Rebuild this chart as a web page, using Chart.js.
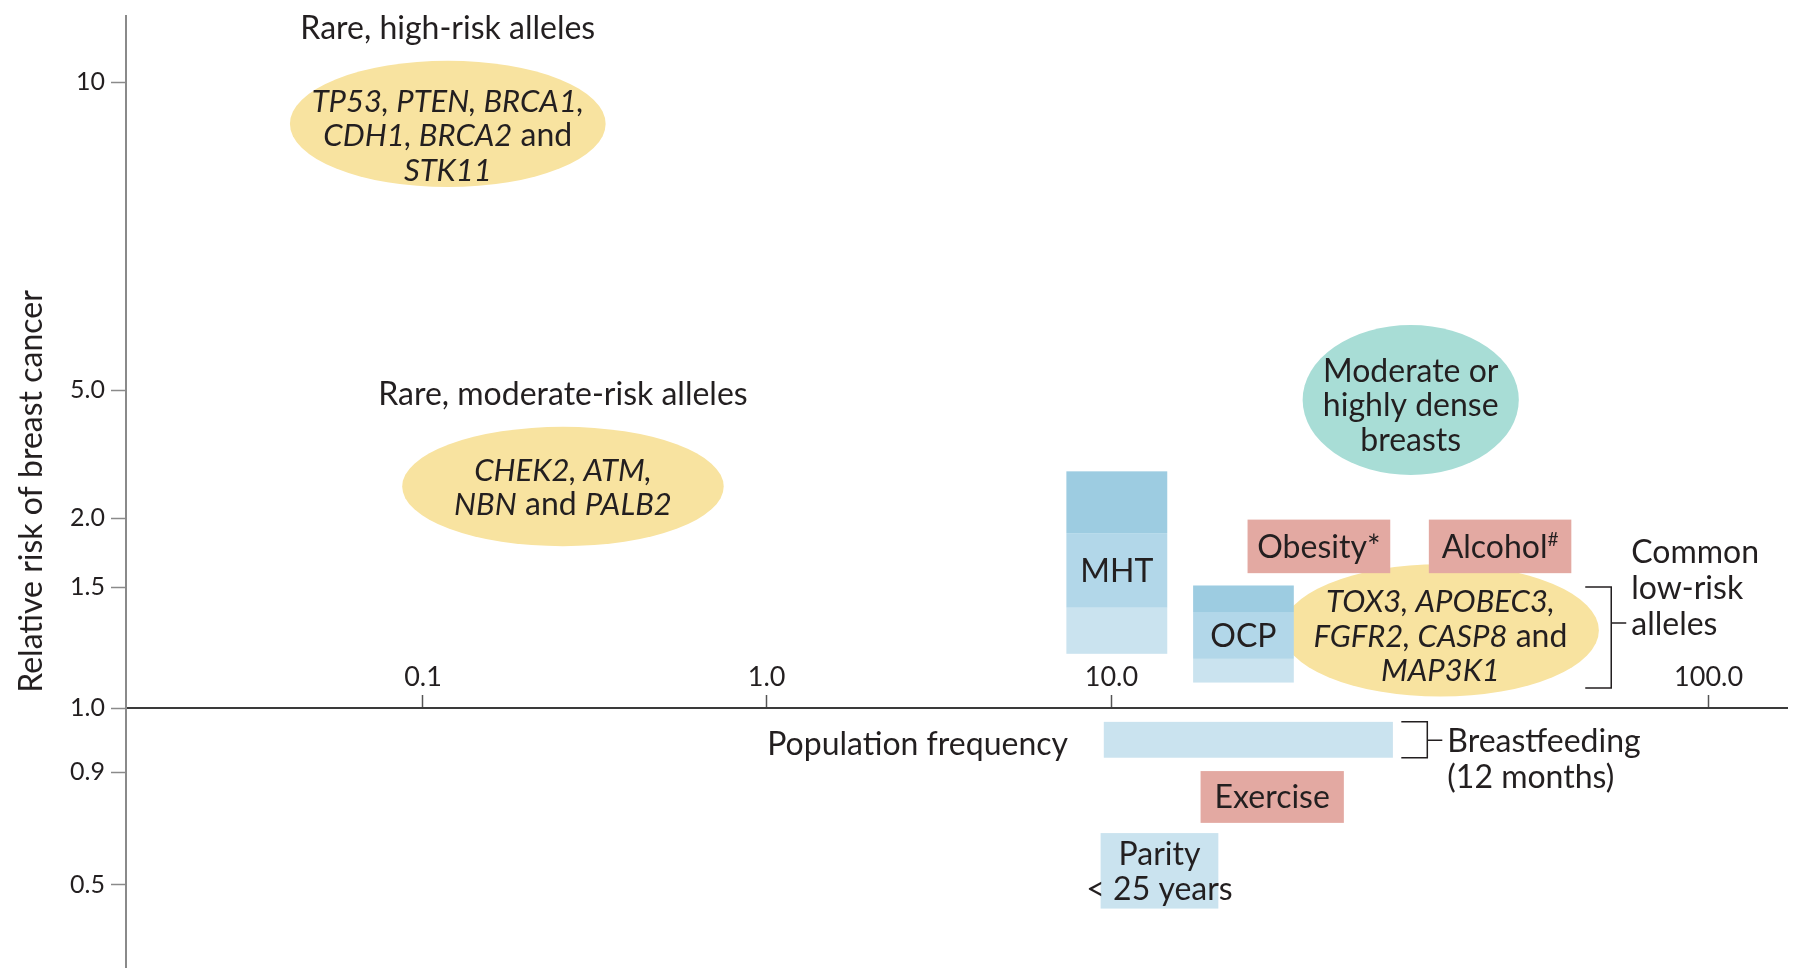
<!DOCTYPE html>
<html>
<head>
<meta charset="utf-8">
<script src="https://cdn.jsdelivr.net/npm/chart.js@4.4.1/dist/chart.umd.min.js"></script>
<style>
  html, body { margin: 0; background: #fff; }
  canvas { display: block; }
</style>
</head>
<body>
<canvas id="riskChart" width="1794" height="973" style="width:1794px;height:973px"></canvas>
<script>
// axis ticks
const xTicks = [0.1, 1, 10, 100];
const xTickLabels = ['0.1', '1.0', '10.0', '100.0'];
const yTicks = [0.5, 0.9, 1, 1.5, 2, 5, 10];
const yTickLabels = ['0.5', '0.9', '1.0', '1.5', '2.0', '5.0', '10'];

// genetic variants and breast density (ellipses): [min, max] population frequency and relative risk
const blobTitles = ['Rare, high-risk alleles', 'Rare, moderate-risk alleles', '', ''];
const blobText = [
  ['_TP53, PTEN, BRCA1,_', '_CDH1, BRCA2_ and', '_STK11_'],
  ['_CHEK2, ATM,_', '_NBN_ and _PALB2_'],
  ['_TOX3, APOBEC3,_', '_FGFR2, CASP8_ and', '_MAP3K1_'],
  ['Moderate or', 'highly dense', 'breasts']
];
const blobFreq = [[0.041, 0.34], [0.087, 0.75], [19.3, 65.5], [20.9, 48.1]];
const blobRisk = [[7.9, 10.5], [1.78, 3.85], [1.04, 1.65], [2.73, 5.79]];

// exposures (boxes); MHT and OCP are split in three risk bands
const boxText = [['MHT'], ['OCP'], ['Obesity*'], ['Alcohol^#^'], [], ['Exercise'], ['Parity', '< 25 years']];
const boxFreq = [[7.4, 12.4], [13.7, 20.2], [16.9, 29.3], [34, 58.9], [9.5, 29.6], [14.1, 24.5], [9.3, 15.1]];
const boxRisk = [
  [1.2, 1.4, 1.88, 2.8],
  [1.09, 1.18, 1.38, 1.51],
  [1.59, 1.99],
  [1.59, 1.99],
  [0.922, 0.978],
  [0.691, 0.902],
  [0.441, 0.655]
];

// bracket labels: spine frequency, [bottom, top, pointer] risk
const calloutText = [['Common', 'low-risk', 'alleles'], ['Breastfeeding', '(12 months)']];
const calloutFreq = [68.7, 33.8];
const calloutRisk = [[1.07, 1.5, 1.33], [0.922, 0.978, 0.949]];
const calloutLine = [2, 0];

const xTitle = 'Population frequency';
const yTitle = 'Relative risk of breast cancer';

// styles
const INK = '#231f20';
const FONT = 'Lato, "Noto Sans", sans-serif';
const TEXT_SIZE = 32;
const YELLOW = '#f8e3a0', TEAL = '#a8ddd6', PINK = '#e3a9a2';
const BLUE_DARK = '#9dcce1', BLUE_MID = '#b2d7e9', BLUE_LIGHT = '#cae3ef';
const blobColors = [YELLOW, YELLOW, YELLOW, TEAL];
const blobTextShift = [11, 0, 5, 5];
const boxColors = [
  [BLUE_LIGHT, BLUE_MID, BLUE_DARK],
  [BLUE_LIGHT, BLUE_MID, BLUE_DARK],
  [PINK], [PINK], [BLUE_LIGHT], [PINK], [BLUE_LIGHT]
];

// log-like axis where each decade (or step) between stops gets its own length
class PiecewiseLogScale extends Chart.LinearScale {
  static id = 'piecewiseLog';
  static defaults = {};

  getPixelForValue(value) {
    const stops = this.options.stops;
    let i = 1;
    while (i < stops.length - 1 && value > stops[i][0]) i++;
    const a = stops[i - 1], b = stops[i];
    const t = (Math.log10(value) - Math.log10(a[0])) / (Math.log10(b[0]) - Math.log10(a[0]));
    return this.getPixelForDecimal(a[1] + t * (b[1] - a[1]));
  }

  getValueForPixel(pixel) {
    const stops = this.options.stops;
    const d = this.getDecimalForPixel(pixel);
    let i = 1;
    while (i < stops.length - 1 && d > stops[i][1]) i++;
    const a = stops[i - 1], b = stops[i];
    const t = (d - a[1]) / (b[1] - a[1]);
    return Math.pow(10, Math.log10(a[0]) + t * (Math.log10(b[0]) - Math.log10(a[0])));
  }
}
Chart.register(PiecewiseLogScale);

// '_' toggles italic, '^' toggles superscript
function drawRichLine(ctx, str, x, cy, size, align) {
  const parts = [];
  let italic = false, sup = false, buf = '';
  for (const ch of str) {
    if (ch === '_' || ch === '^') {
      if (buf) parts.push({ t: buf, italic, sup });
      buf = '';
      if (ch === '_') italic = !italic; else sup = !sup;
    } else {
      buf += ch;
    }
  }
  if (buf) parts.push({ t: buf, italic, sup });

  const sizeOf = p => p.sup ? Math.round(size * 0.6) : (p.italic ? size - 1 : size);
  const fontOf = p => (p.italic ? 'italic ' : '') + sizeOf(p) + 'px ' + FONT;
  let width = 0;
  parts.forEach(p => { ctx.font = fontOf(p); p.w = ctx.measureText(p.t).width; width += p.w; });

  let cx = align === 'left' ? x : x - width / 2;
  const base = cy + size * 0.36;
  ctx.textAlign = 'left';
  ctx.textBaseline = 'alphabetic';
  ctx.fillStyle = INK;
  parts.forEach(p => {
    ctx.font = fontOf(p);
    ctx.fillText(p.t, cx, p.sup ? base - size * 0.36 : base);
    cx += p.w;
  });
}

const shapesPlugin = {
  id: 'shapes',
  afterDatasetsDraw(chart) {
    const { ctx } = chart;
    const px = v => chart.scales.x.getPixelForValue(v);
    const py = v => chart.scales.y.getPixelForValue(v);
    const lineGap = 34.5;
    ctx.save();

    // ellipses
    blobFreq.forEach((f, i) => {
      const x0 = px(f[0]), x1 = px(f[1]);
      const yTop = py(blobRisk[i][1]), yBot = py(blobRisk[i][0]);
      ctx.fillStyle = blobColors[i];
      ctx.beginPath();
      ctx.ellipse((x0 + x1) / 2, (yTop + yBot) / 2, (x1 - x0) / 2, (yBot - yTop) / 2, 0, 0, Math.PI * 2);
      ctx.fill();
    });

    // boxes
    boxFreq.forEach((f, i) => {
      const r = boxRisk[i];
      const x0 = px(f[0]), x1 = px(f[1]);
      for (let b = 0; b < r.length - 1; b++) {
        const yTop = py(r[b + 1]), yBot = py(r[b]);
        ctx.fillStyle = boxColors[i][b];
        ctx.fillRect(x0, yTop, x1 - x0, yBot - yTop);
      }
    });

    // ellipse text and titles
    blobFreq.forEach((f, i) => {
      const cx = (px(f[0]) + px(f[1])) / 2;
      const yTop = py(blobRisk[i][1]), yBot = py(blobRisk[i][0]);
      const lines = blobText[i];
      const cy = (yTop + yBot) / 2 + blobTextShift[i];
      lines.forEach((l, k) => drawRichLine(ctx, l, cx, cy + (k - (lines.length - 1) / 2) * lineGap, TEXT_SIZE, 'center'));
      if (blobTitles[i]) drawRichLine(ctx, blobTitles[i], cx, yTop - 33, TEXT_SIZE, 'center');
    });

    // box text
    boxFreq.forEach((f, i) => {
      const r = boxRisk[i];
      const lines = boxText[i];
      if (!lines.length) return;
      const cx = (px(f[0]) + px(f[1])) / 2;
      const mid = r.length > 2 ? 1 : 0;
      const cy = (py(r[mid]) + py(r[mid + 1])) / 2;
      lines.forEach((l, k) => drawRichLine(ctx, l, cx, cy + (k - (lines.length - 1) / 2) * lineGap, TEXT_SIZE, 'center'));
    });

    // brackets
    ctx.strokeStyle = INK;
    ctx.lineWidth = 1.5;
    calloutFreq.forEach((f, i) => {
      const sx = px(f);
      const [lo, hi, ptr] = calloutRisk[i].map(py);
      ctx.beginPath();
      ctx.moveTo(sx - 26, hi); ctx.lineTo(sx, hi); ctx.lineTo(sx, lo); ctx.lineTo(sx - 26, lo);
      ctx.moveTo(sx, ptr); ctx.lineTo(sx + 15, ptr);
      ctx.stroke();
      calloutText[i].forEach((l, k) => drawRichLine(ctx, l, sx + 20, ptr + (k - calloutLine[i]) * 36, TEXT_SIZE, 'left'));
    });

    // x axis caption, below the axis line
    drawRichLine(ctx, xTitle, px(2.74), py(1) + 35, TEXT_SIZE, 'center');
    ctx.restore();
  }
};

new Chart(document.getElementById('riskChart'), {
  type: 'scatter',
  data: { datasets: [] },
  options: {
    responsive: false,
    devicePixelRatio: 1,
    animation: false,
    layout: { padding: { top: 16, right: 7, bottom: 6, left: 0 } },
    plugins: { legend: { display: false }, tooltip: { enabled: false } },
    scales: {
      x: {
        type: 'piecewiseLog',
        position: { y: 1 },
        min: 0.01367,
        max: 135.3,
        stops: [[0.01367, 0], [0.1, 0.1788], [1, 0.3857], [10, 0.5933], [100, 0.9528], [135.3, 1]],
        afterBuildTicks: scale => { scale.ticks = xTicks.map(v => ({ value: v })); },
        afterFit: scale => { scale.paddingLeft = 0; scale.paddingRight = 0; },
        ticks: {
          callback: v => xTickLabels[xTicks.indexOf(v)],
          font: { family: FONT, size: 27 },
          color: INK,
          padding: -33,
          autoSkip: false,
          maxRotation: 0
        },
        grid: { drawOnChartArea: false, tickLength: -14, color: '#555', tickWidth: 1.5 },
        border: { color: '#3a3a3a', width: 2 }
      },
      y: {
        type: 'piecewiseLog',
        position: 'left',
        min: 0.3246,
        max: 11.61,
        stops: [[0.3246, 0], [0.5, 0.0866], [0.9, 0.2046], [1, 0.272], [1.5, 0.3995], [2, 0.4717], [5, 0.6065], [10, 0.9302], [11.61, 1]],
        afterBuildTicks: scale => { scale.ticks = yTicks.map(v => ({ value: v })); },
        afterFit: scale => {
          scale.width = 126;
          scale.paddingTop = 0;
          scale.paddingBottom = 0;
        },
        ticks: {
          callback: v => yTickLabels[yTicks.indexOf(v)],
          font: { family: FONT, size: 25 },
          color: INK,
          padding: 6,
          autoSkip: false
        },
        grid: { drawOnChartArea: false, tickLength: 15, color: '#8a8a8a', tickWidth: 1.5 },
        border: { color: '#8a8a8a', width: 2 },
        title: {
          display: true,
          text: yTitle,
          font: { family: FONT, size: 32 },
          color: INK,
          padding: { top: 12, bottom: 0 }
        }
      }
    }
  },
  plugins: [shapesPlugin]
});
</script>
</body>
</html>
